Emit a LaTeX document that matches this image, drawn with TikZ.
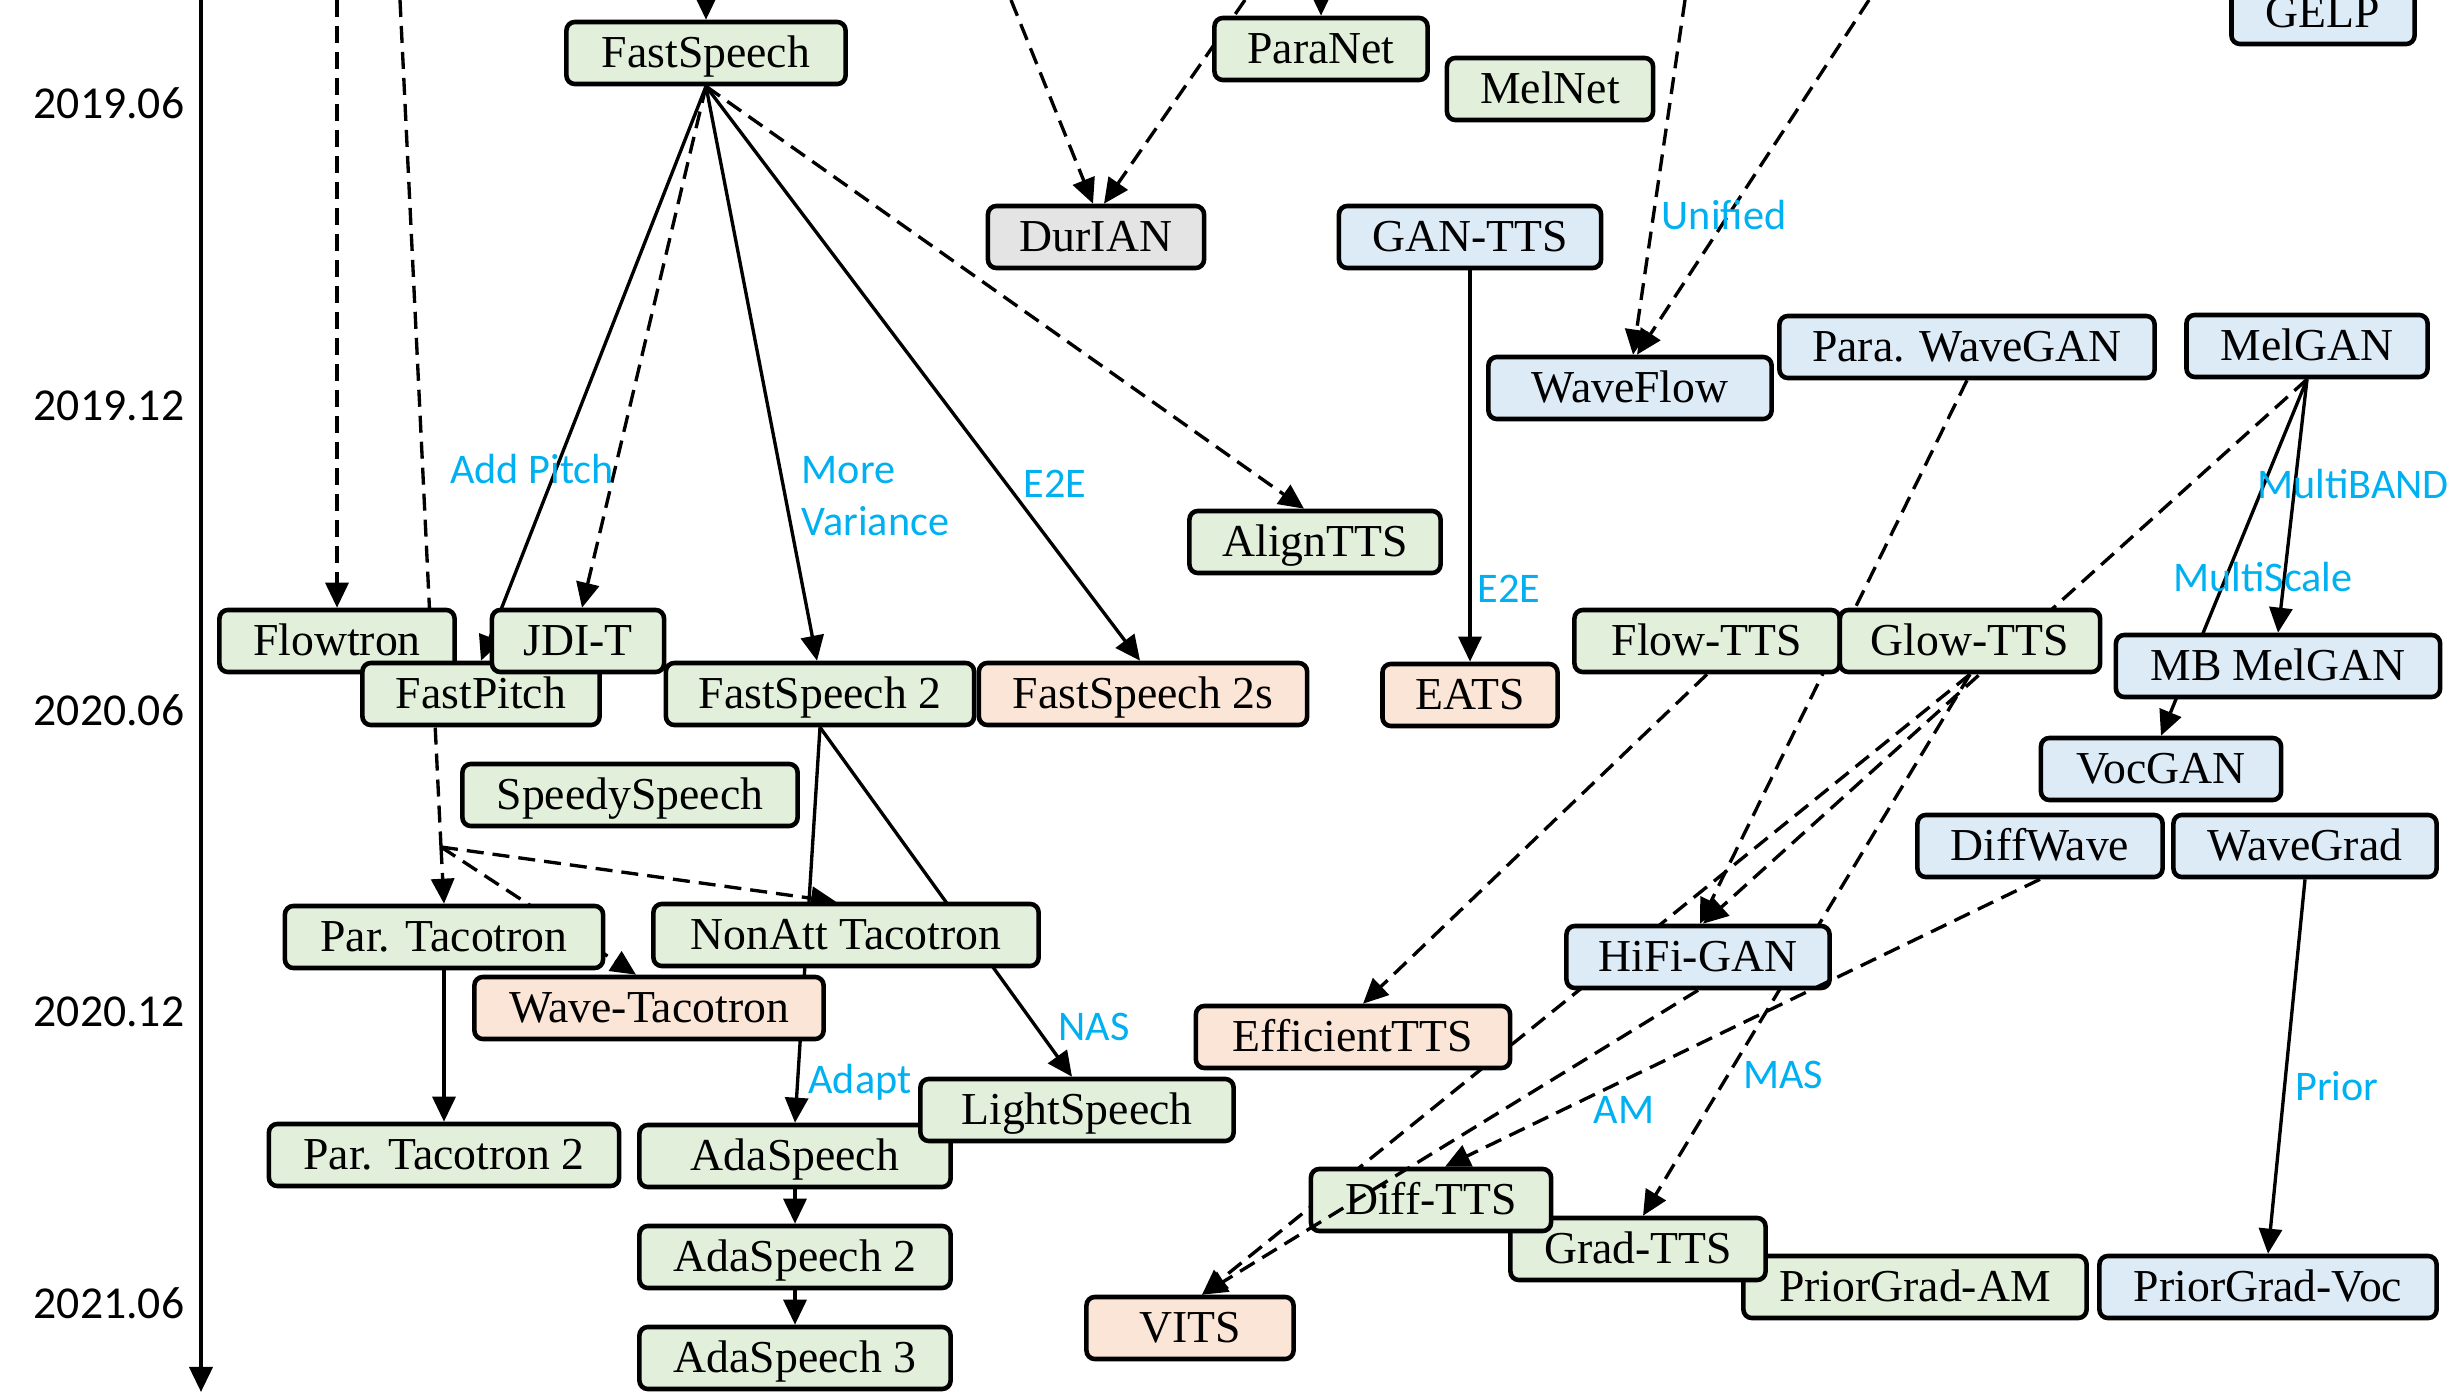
\documentclass[tikz,border=0pt]{standalone}
\usepackage{fontspec}
\setmainfont{Liberation Serif}
\newfontfamily\tagfont{Carlito}
\usetikzlibrary{arrows.meta,backgrounds,calc}

\definecolor{amgreen}{HTML}{E2EFDA}
\definecolor{vocblue}{HTML}{DDEBF7}
\definecolor{eeorange}{HTML}{FBE5D6}
\definecolor{othergray}{HTML}{E4E4E4}
\definecolor{tagblue}{HTML}{00B0F0}

\tikzset{
  basic/.style = {draw, rounded corners=2.4pt, line width=1.3pt, minimum height=0.62cm,
                  inner sep=0pt, text height=8.4pt, text depth=0pt,
                  font=\fontsize{13}{15}\selectfont},
  am/.style    = {basic, fill=amgreen},
  voc/.style   = {basic, fill=vocblue},
  e2e/.style   = {basic, fill=eeorange},
  misc/.style  = {basic, fill=othergray},
  tag/.style   = {font=\tagfont\fontsize{12}{14.8}\selectfont, text=tagblue, inner sep=0pt},
  year/.style  = {font=\tagfont\fontsize{13}{15}\selectfont, anchor=east, inner sep=0pt},
  arc/.style   = {-{Triangle[width=0.23cm,length=0.25cm]}, line width=0.95pt},
  darc/.style  = {arc, dash pattern=on 0.17cm off 0.09cm},
  dline/.style = {line width=0.95pt, dash pattern=on 0.17cm off 0.09cm}
}

\begin{document}
\begin{tikzpicture}[x=0.01cm, y=-0.01cm]
\useasboundingbox (0,0) rectangle (2458,1392);

% time axis
\coordinate (axtop) at (201,0);
\coordinate (axend) at (201,1392);
\draw[arc, line width=1.1pt] (axtop) -- (axend);
\node[year] (y1906) at (185,103)  {2019.06};
\node[year] (y1912) at (185,406)  {2019.12};
\node[year] (y2006) at (185,710)  {2020.06};
\node[year] (y2012) at (185,1012) {2020.12};
\node[year] (y2106) at (185,1303) {2021.06};

% models
\node[am, minimum width=2.79cm]   (fs)       at (706,53)   {FastSpeech};
\node[am, minimum width=2.13cm]   (paranet)  at (1321,49)  {ParaNet};
\node[am, minimum width=2.06cm]   (melnet)   at (1550,89)  {MelNet};
\node[voc, minimum width=1.83cm]  (gelp)     at (2323,13)  {GELP};
\node[misc, minimum width=2.16cm] (durian)   at (1096,237) {DurIAN};
\node[voc, minimum width=2.62cm]  (gantts)   at (1470,237) {GAN-TTS};
\node[voc, minimum width=2.83cm]  (waveflow) at (1630,388) {WaveFlow};
\node[voc, minimum width=3.75cm]  (pwgan)    at (1967,347) {Para. WaveGAN};
\node[voc, minimum width=2.41cm]  (melgan)   at (2307,346) {MelGAN};
\node[am, minimum width=2.51cm]   (aligntts) at (1315,542) {AlignTTS};

\node[am, minimum width=2.35cm]   (flowtron)  at (337,641) {Flowtron};
\node[am, minimum width=2.37cm]   (fastpitch) at (481,694) {FastPitch};
\node[am, minimum width=1.72cm]   (jdit)      at (578,641) {JDI-T};
\node[am, minimum width=3.08cm]   (fs2)       at (820,694) {FastSpeech 2};
\node[e2e, minimum width=3.28cm]  (fs2s)      at (1143,694) {FastSpeech 2s};
\node[e2e, minimum width=1.75cm]  (eats)      at (1470,695) {EATS};
\node[am, minimum width=2.65cm]   (flowtts)   at (1707,641) {Flow-TTS};
\node[am, minimum width=2.60cm]   (glowtts)   at (1970,641) {Glow-TTS};
\node[voc, minimum width=3.24cm]  (mbmelgan)  at (2278,666) {MB MelGAN};
\node[voc, minimum width=2.40cm]  (vocgan)    at (2161,769) {VocGAN};
\node[voc, minimum width=2.45cm]  (diffwave)  at (2040,846) {DiffWave};
\node[voc, minimum width=2.63cm]  (wavegrad)  at (2305,846) {WaveGrad};

\node[am, minimum width=3.35cm]   (speedy)    at (630,795)  {SpeedySpeech};
\node[am, minimum width=3.18cm]   (partac)    at (444,937)  {Par. Tacotron};
\node[am, minimum width=3.85cm]   (nonatt)    at (846,935)  {NonAtt Tacotron};
\node[e2e, minimum width=3.49cm]  (wavetac)   at (649,1008) {Wave-Tacotron};
\node[voc, minimum width=2.63cm]  (hifigan)   at (1698,957) {HiFi-GAN};
\node[e2e, minimum width=3.14cm]  (efftts)    at (1353,1037) {EfficientTTS};
\node[am, minimum width=3.50cm]   (partac2)   at (444,1155) {Par. Tacotron 2};
\node[am, minimum width=3.11cm]   (ada)       at (795,1156) {AdaSpeech};
\node[am, minimum width=3.13cm]   (lightsp)   at (1077,1110) {LightSpeech};
\node[am, minimum width=3.11cm]   (ada2)      at (795,1257) {AdaSpeech 2};
\node[am, minimum width=3.11cm]   (ada3)      at (795,1358) {AdaSpeech 3};
\node[am, minimum width=3.43cm]   (pgam)      at (1915,1287) {PriorGrad-AM};
\node[am, minimum width=2.55cm]   (gradtts)   at (1638,1249) {Grad-TTS};
\node[am, minimum width=2.40cm]   (difftts)   at (1431,1200) {Diff-TTS};
\node[voc, minimum width=3.37cm]  (pgvoc)     at (2268,1287) {PriorGrad-Voc};
\node[e2e, minimum width=2.07cm]  (vits)      at (1190,1328) {VITS};

% links coming in from earlier models
\coordinate (in1) at (337,0);
\coordinate (in2) at (400,0);
\coordinate (in3) at (706,0);
\coordinate (in4) at (1011,0);
\coordinate (in5) at (1245,0);
\coordinate (in6) at (1321,0);
\coordinate (in7) at (1685,0);
\coordinate (in8) at (1869,0);
\coordinate (split) at (441,847);

\begin{scope}[on background layer]
  \draw[darc] (in1) -- (flowtron.north);
  \draw[dline] (in2) -- (split);
  \draw[darc] (split) -- (partac.north);
  \draw[darc] (split) -- ([xshift=-0.1cm]nonatt.north);
  \draw[darc] (split) -- ([xshift=-0.13cm]wavetac.north);
  \draw[arc] (in3) -- (fs.north);
  \draw[darc] (in4) -- ([xshift=-0.03cm]durian.north);
  \draw[darc] (in5) -- ([xshift=0.08cm]durian.north);
  \draw[arc] (in6) -- (paranet.north);
  \draw[darc] (in7) -- ([xshift=0.03cm]waveflow.north);
  \draw[darc] (in8) -- ([xshift=0.07cm]waveflow.north);
  % from FastSpeech
  \draw[arc] (fs.south) -- (fastpitch.north);
  \draw[darc] (fs.south) -- ([xshift=0.04cm]jdit.north);
  \draw[arc] (fs.south) -- ([xshift=-0.03cm]fs2.north);
  \draw[arc] (fs.south) -- ([xshift=-0.03cm]fs2s.north);
  \draw[darc] (fs.south) -- ([xshift=-0.11cm]aligntts.north);
  \draw[arc] (fs2.south) -- (ada.north);
  \draw[arc] (fs2.south) -- ([xshift=-0.05cm]lightsp.north);
  \draw[arc] (partac.south) -- (partac2.north);
  \draw[arc] (ada.south) -- (ada2.north);
  \draw[arc] (ada2.south) -- (ada3.north);
  % vocoders
  \draw[arc] (gantts.south) -- (eats.north);
  \draw[arc] (melgan.south) -- (mbmelgan.north);
  \draw[arc] (melgan.south) -- (vocgan.north);
  \draw[darc] (melgan.south) -- ([xshift=0.05cm]hifigan.north);
  \draw[darc] (pwgan.south) -- ([xshift=0.02cm]hifigan.north);
  \draw[darc] (flowtts.south) -- ([xshift=0.1cm]efftts.north);
  \draw[darc] (glowtts.south) -- ([xshift=0.12cm]vits.north);
  \draw[darc] (glowtts.south) -- ([xshift=0.05cm]gradtts.north);
  \draw[arc] (wavegrad.south) -- (pgvoc.north);
\end{scope}
\draw[darc] (hifigan.south) -- ([xshift=0.12cm]vits.north);
\draw[darc] (diffwave.south) -- ([xshift=0.14cm]difftts.north);

% edge tags
\node[tag] (tpitch) at (532,469) {Add Pitch};
\node[tag, align=left, anchor=west] (tvar) at (801,496) {More\\Variance};
\node[tag] (te2ea) at (1055,484) {E2E};
\node[tag] (te2eb) at (1509,589) {E2E};
\node[tag] (tunif) at (1724,215) {Unified};
\node[tag] (tband) at (2353,484) {MultiBAND};
\node[tag] (tscale) at (2263,577) {MultiScale};
\node[tag] (tnas) at (1094,1027) {NAS};
\node[tag] (tadapt) at (860,1082) {Adapt};
\node[tag] (tmas) at (1783,1075) {MAS};
\node[tag] (tam) at (1624,1110) {AM};
\node[tag] (tprior) at (2337,1086) {Prior};
\end{tikzpicture}
\end{document}
